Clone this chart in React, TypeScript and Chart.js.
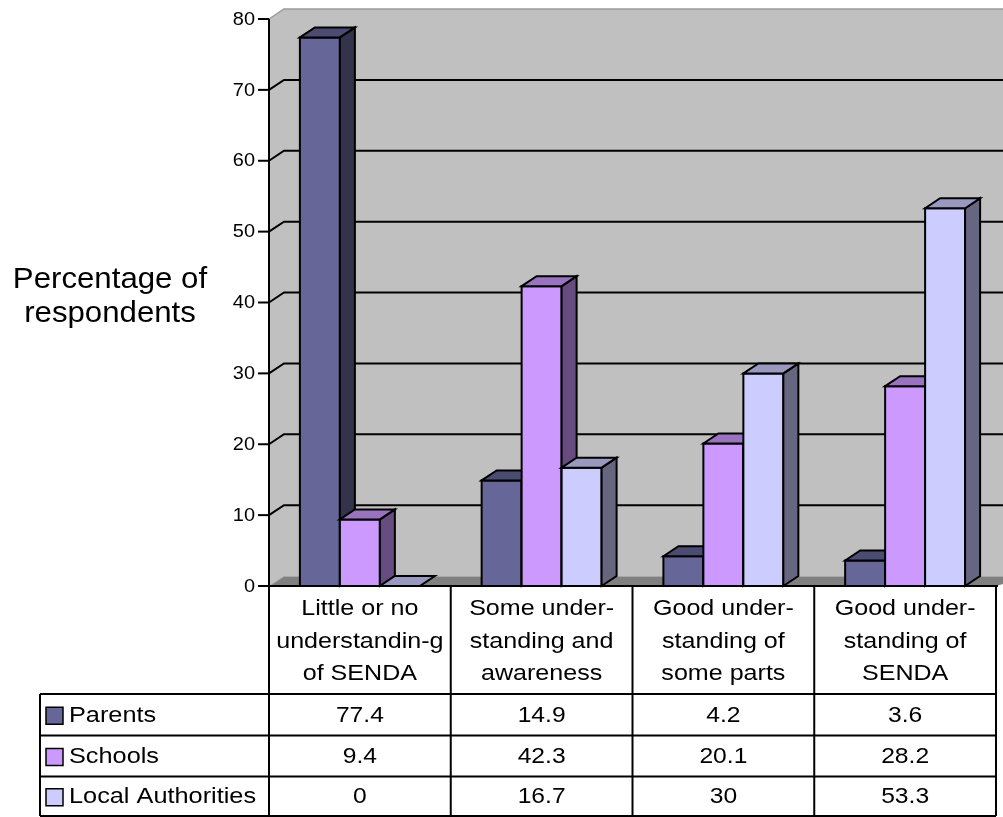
import React, { useEffect, useRef } from "react";
import { Chart, registerables } from "chart.js";

Chart.register(...registerables);

const categories: string[][] = [
  ["Little or no", "understandin-g", "of SENDA"],
  ["Some under-", "standing and", "awareness"],
  ["Good under-", "standing of", "some parts"],
  ["Good under-", "standing of", "SENDA"],
];
const seriesNames = ["Parents", "Schools", "Local Authorities"];
const parents = [77.4, 14.9, 4.2, 3.6];
const schools = [9.4, 42.3, 20.1, 28.2];
const localAuthorities = [0, 16.7, 30, 53.3];
const yTicks = [0, 10, 20, 30, 40, 50, 60, 70, 80];

const frontColors = ["#666699", "#CC99FF", "#CCCCFF"];
const topColors = ["#4C4C73", "#9973BF", "#9999BF"];
const sideColors = ["#33334C", "#664C80", "#666680"];

const FONT = '"Liberation Sans", Arial, sans-serif';
const DX = 15;
const DY = -10;

function txt(ctx: CanvasRenderingContext2D, s: string, x: number, y: number, align: CanvasTextAlign, size: number, sx: number, baseline: CanvasTextBaseline = "alphabetic") {
  ctx.save();
  ctx.translate(x, y);
  ctx.scale(sx, 1);
  ctx.font = `${size}px ${FONT}`;
  ctx.fillStyle = "#000";
  ctx.textAlign = align;
  ctx.textBaseline = baseline;
  ctx.fillText(s, 0, 0);
  ctx.restore();
}

function poly(ctx: CanvasRenderingContext2D, pts: number[][], fill: string, stroke: string | null, lw = 2) {
  ctx.beginPath();
  ctx.moveTo(pts[0][0], pts[0][1]);
  for (let i = 1; i < pts.length; i++) ctx.lineTo(pts[i][0], pts[i][1]);
  ctx.closePath();
  ctx.fillStyle = fill;
  ctx.fill();
  if (stroke) {
    ctx.strokeStyle = stroke;
    ctx.lineWidth = lw;
    ctx.lineJoin = "miter";
    ctx.stroke();
  }
}

const scenePlugin = {
  id: "scene3d",
  beforeDatasetsDraw(chart: any) {
    const ctx: CanvasRenderingContext2D = chart.ctx;
    const area = chart.chartArea;
    const y = chart.scales.y;
    const x = chart.scales.x;
    const L = area.left, R = area.right, T = area.top, B = area.bottom;
    ctx.save();
    poly(ctx, [[L + DX, T + DY], [R + DX + 20, T + DY], [R + DX + 20, B + DY], [L + DX, B + DY]], "#C0C0C0", null);
    poly(ctx, [[L, T], [L + DX, T + DY], [L + DX, B + DY], [L, B]], "#C0C0C0", null);
    poly(ctx, [[L, B], [L + DX, B + DY], [R + DX + 20, B + DY], [R, B]], "#808080", null);
    ctx.strokeStyle = "#9A9A9A";
    ctx.lineWidth = 1.5;
    ctx.beginPath();
    ctx.moveTo(L, T);
    ctx.lineTo(L + DX, T + DY);
    ctx.lineTo(R + DX + 20, T + DY);
    ctx.stroke();
    ctx.strokeStyle = "#A8A8A8";
    ctx.lineWidth = 1;
    ctx.beginPath();
    ctx.moveTo(L + 2, B - 1);
    ctx.lineTo(L + DX, B + DY + 0.5);
    ctx.lineTo(R + DX + 20, B + DY + 0.5);
    ctx.stroke();
    ctx.strokeStyle = "#000";
    ctx.lineWidth = 2;
    for (const v of yTicks) {
      if (v === 0 || v === 80) continue;
      const py = y.getPixelForValue(v);
      ctx.beginPath();
      ctx.moveTo(L, py);
      ctx.lineTo(L + DX, py + DY);
      ctx.lineTo(R + DX + 20, py + DY);
      ctx.stroke();
    }
    ctx.lineWidth = 2;
    ctx.beginPath();
    ctx.moveTo(L, T);
    ctx.lineTo(L, B);
    ctx.stroke();
    for (const v of yTicks) {
      const py = y.getPixelForValue(v);
      ctx.beginPath();
      ctx.moveTo(L - 11, py);
      ctx.lineTo(L, py);
      ctx.stroke();
      txt(ctx, String(v), L - 14, py + 0.5, "right", 19, 1.05, "middle");
    }
    txt(ctx, "Percentage of", 110, 288, "center", 30, 1.04);
    txt(ctx, "respondents", 110, 322, "center", 30, 1.04);

    const edges: number[] = [];
    const n = categories.length;
    const cw = (R - L) / n;
    for (let i = 0; i <= n; i++) edges.push(L + cw * i);
    const rows = [694, 735.5, 776.5, 816];
    const tableLeft = 40;
    ctx.strokeStyle = "#000";
    ctx.lineWidth = 2;
    ctx.beginPath();
    ctx.moveTo(L - 11, B);
    ctx.lineTo(R + 2, B);
    ctx.stroke();
    for (const ex of edges) {
      ctx.beginPath();
      ctx.moveTo(ex, B);
      ctx.lineTo(ex, rows[rows.length - 1]);
      ctx.stroke();
    }
    ctx.beginPath();
    ctx.moveTo(tableLeft, rows[0]);
    ctx.lineTo(tableLeft, rows[rows.length - 1]);
    ctx.stroke();
    for (const ry of rows) {
      ctx.beginPath();
      ctx.moveTo(tableLeft, ry);
      ctx.lineTo(R, ry);
      ctx.stroke();
    }
    const lineBase = [615, 648, 680];
    categories.forEach((lines, i) => {
      const cx = x.getPixelForValue(i);
      lines.forEach((s, j) => txt(ctx, s, cx, lineBase[j], "center", 22, 1.14));
    });
    const allSeries = [parents, schools, localAuthorities];
    allSeries.forEach((vals, r) => {
      const top = rows[r];
      const bot = rows[r + 1];
      const cy = (top + bot) / 2 + 1;
      ctx.fillStyle = frontColors[r];
      ctx.fillRect(46, cy - 8.5, 17, 17);
      ctx.lineWidth = 1.5;
      ctx.strokeRect(46, cy - 8.5, 17, 17);
      txt(ctx, seriesNames[r], 69, cy, "left", 22, 1.15, "middle");
      vals.forEach((v, i) => {
        txt(ctx, String(v), x.getPixelForValue(i), cy, "center", 22, 1.12, "middle");
      });
    });
    ctx.restore();
  },
  afterDatasetsDraw(chart: any) {
    const ctx: CanvasRenderingContext2D = chart.ctx;
    const metas = chart.data.datasets.map((_: any, i: number) => chart.getDatasetMeta(i));
    const n = chart.data.labels.length;
    ctx.save();
    for (let c = 0; c < n; c++) {
      metas.forEach((meta: any, d: number) => {
        const el = meta.data[c];
        const p = el.getProps(["x", "y", "base", "width"], true);
        const l = p.x - p.width / 2;
        const r = p.x + p.width / 2;
        const t = p.y;
        const b = p.base;
        if (b - t > 0.5) {
          poly(ctx, [[l, t], [r, t], [r, b], [l, b]], frontColors[d], "#000");
          poly(ctx, [[r, t], [r + DX, t + DY], [r + DX, b + DY], [r, b]], sideColors[d], "#000");
        }
        poly(ctx, [[l, t], [l + DX, t + DY], [r + DX, t + DY], [r, t]], topColors[d], "#000");
      });
    }
    ctx.restore();
  },
};

export default function App() {
  const ref = useRef<HTMLCanvasElement | null>(null);
  useEffect(() => {
    if (!ref.current) return;
    const chart = new Chart(ref.current, {
      type: "bar",
      data: {
        labels: categories,
        datasets: [parents, schools, localAuthorities].map((vals, i) => ({
          label: seriesNames[i],
          data: vals,
          backgroundColor: frontColors[i],
          borderWidth: 0,
          categoryPercentage: 0.66,
          barPercentage: 1.0,
        })),
      },
      options: {
        responsive: false,
        animation: false,
        events: [],
        layout: { padding: { left: 269, right: 7, top: 19, bottom: 231 } },
        plugins: { legend: { display: false }, tooltip: { enabled: false } },
        scales: {
          x: { display: false, offset: true },
          y: { display: false, min: 0, max: 80 },
        },
      },
      plugins: [scenePlugin],
    });
    return () => chart.destroy();
  }, []);
  return (
    <div style={{ position: "fixed", left: 0, top: 0, width: 1003, height: 817, background: "#fff" }}>
      <canvas ref={ref} width={1003} height={817} style={{ display: "block" }} />
    </div>
  );
}
